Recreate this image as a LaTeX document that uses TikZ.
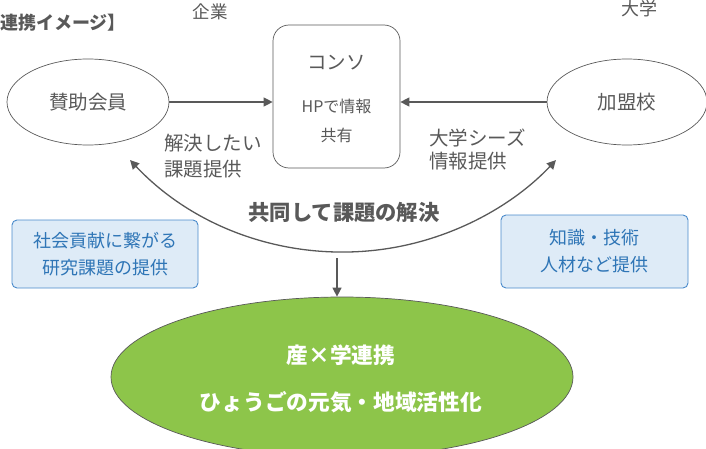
\documentclass[tikz,border=0pt]{standalone}
\usepackage{fontspec}
\setmainfont{Noto Sans CJK JP}
\newcommand\jpb{\bfseries}
\usetikzlibrary{arrows.meta,shapes.geometric,calc}
\definecolor{txtgray}{HTML}{595959}
\definecolor{linegray}{HTML}{595959}
\definecolor{bluetxt}{HTML}{2E75B6}
\definecolor{bluefill}{HTML}{DEEBF7}
\definecolor{blueline}{HTML}{4A8ACB}
\definecolor{greenfill}{HTML}{8DC54A}
\tikzset{
  lbl/.style={text=txtgray, font=\fontsize{19.5}{22}\selectfont, inner sep=0pt},
  oval/.style={draw=linegray, line width=0.7pt, ellipse, inner sep=0pt},
  conbox/.style={draw=linegray, line width=0.7pt, rounded corners=16pt, minimum width=127pt, minimum height=143pt},
  bluebox/.style={draw=blueline, fill=bluefill, line width=0.9pt, rounded corners=5pt, align=center, text=bluetxt, font=\fontsize{18}{27}\selectfont},
  arr/.style={draw=linegray, line width=1.3pt, -{Triangle[length=9pt,width=9pt]}},
  arc2/.style={draw=linegray, line width=1.3pt, {Triangle[length=9pt,width=9pt]}-{Triangle[length=9pt,width=9pt]}}
}
\begin{document}
\begin{tikzpicture}[x=1pt,y=1pt]
\useasboundingbox (0,0) rectangle (706,448);
\begin{scope}
\clip (0,0) rectangle (706,448);
% title
\node[anchor=west, text=txtgray, font=\jpb\fontsize{18}{20}\selectfont, inner sep=0pt] (title) at (0,425) {連携イメージ】};
\node[lbl, font=\fontsize{17.5}{20}\selectfont] (kigyo) at (210,436) {企業};
\node[lbl, font=\fontsize{18}{20}\selectfont] (daigaku) at (639,439) {大学};
% ellipses
\node[oval, minimum width=162pt, minimum height=86pt] (sanjo) at (88,346) {};
\node[lbl] at (sanjo) {賛助会員};
\node[oval, minimum width=160pt, minimum height=86pt] (kamei) at (627,346) {};
\node[lbl] at (kamei) {加盟校};
% consortium box
\node[conbox] (conso) at (336.5,351.5) {};
\node[lbl] (c1) at (336.5,385) {コンソ};
\node[lbl, font=\fontsize{16}{18}\selectfont] (c2) at (336.5,342) {HPで情報};
\node[lbl, font=\fontsize{16}{18}\selectfont] (c3) at (336.5,313) {共有};
% arrows
\draw[arr] (sanjo.east) -- (conso.west |- sanjo.east);
\draw[arr] (kamei.west) -- (conso.east |- kamei.west);
% labels
\node[lbl, anchor=west] (k1) at (164,305) {解決したい};
\node[lbl, anchor=west] (k2) at (164,279) {課題提供};
\node[lbl, anchor=west] (d1) at (429,310) {大学シーズ};
\node[lbl, anchor=west] (d2) at (429,287) {情報提供};
% big arc
\coordinate (arcL) at ($(343,488.6)+(223.3:292.6)$);
\draw[arc2] (arcL) arc[start angle=223.3, end angle=316.7, radius=292.6pt];
\node[text=txtgray, font=\jpb\fontsize{21.3}{24}\selectfont, inner sep=0pt] (kyodo) at (344,236) {共同して課題の解決};
% green ellipse
\node[draw=linegray, line width=0.7pt, fill=greenfill, ellipse, minimum width=462pt, minimum height=160pt, inner sep=0pt] (green) at (342,71) {};
\node[text=white, font=\jpb\fontsize{21.7}{24}\selectfont, inner sep=0pt] (g1) at (341,93) {産×学連携};
\node[text=white, font=\jpb\fontsize{21.7}{24}\selectfont, inner sep=0pt] (g2) at (341,46) {ひょうごの元気・地域活性化};
\coordinate (vtop) at (337,190);
\draw[arr] (vtop) -- (green.north -| vtop);
% blue boxes
\node[bluebox, minimum width=186pt, minimum height=68pt] (lb) at (105,194) {社会貢献に繋がる\\研究課題の提供};
\node[bluebox, minimum width=187pt, minimum height=73pt] (rb) at (594.5,196.5) {知識・技術\\人材など提供};
\end{scope}
\end{tikzpicture}
\end{document}
